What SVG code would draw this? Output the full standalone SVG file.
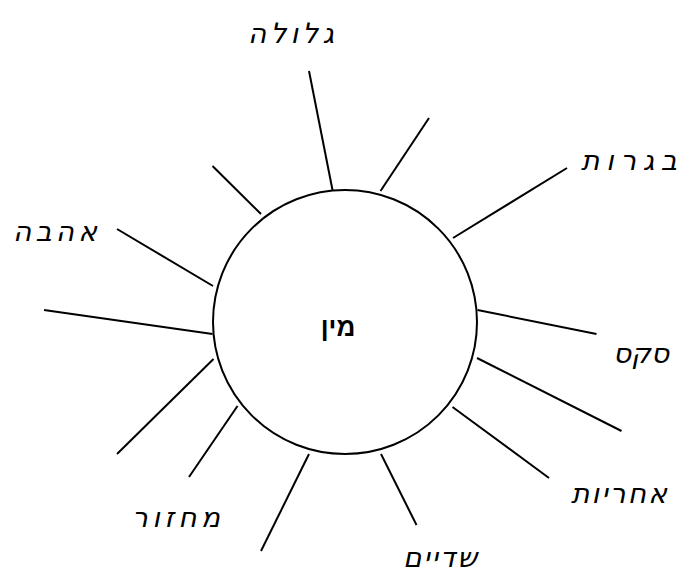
<svg xmlns="http://www.w3.org/2000/svg" width="680" height="577" viewBox="0 0 680 577">
<style>
.bg{fill:#fff}
.spoke{stroke:#000;stroke-width:2;stroke-linecap:butt;fill:none}
.hub{fill:#fff;stroke:#000;stroke-width:2}
.hubtxt{font-family:"Liberation Sans","DejaVu Sans",sans-serif;font-weight:bold;font-size:26px;fill:#000;text-anchor:middle}
.lbl{font-family:"DejaVu Sans","Liberation Sans",sans-serif;font-style:italic;font-size:28px;fill:#000;text-anchor:middle}
</style>
<rect class="bg" x="0" y="0" width="680" height="577"/>
<g id="connectors">
<line class="spoke" x1="309" y1="71" x2="332.5" y2="190"/>
<line class="spoke" x1="429" y1="118" x2="380.5" y2="191"/>
<line class="spoke" x1="567" y1="168" x2="453" y2="238"/>
<line class="spoke" x1="212.5" y1="166" x2="261" y2="214"/>
<line class="spoke" x1="117" y1="229" x2="213" y2="286"/>
<line class="spoke" x1="44" y1="310" x2="212.5" y2="334"/>
<line class="spoke" x1="213.5" y1="359" x2="117" y2="454"/>
<line class="spoke" x1="237.5" y1="406" x2="189" y2="477"/>
<line class="spoke" x1="309" y1="454" x2="261" y2="551"/>
<line class="spoke" x1="381" y1="454" x2="416.5" y2="525"/>
<line class="spoke" x1="452.5" y1="407" x2="549" y2="478"/>
<line class="spoke" x1="477" y1="358" x2="621.5" y2="431"/>
<line class="spoke" x1="477.5" y1="310" x2="596.5" y2="334"/>
</g>
<g id="node-min">
<circle class="hub" cx="345" cy="322" r="132"/>
<text class="hubtxt" x="338" y="336">מין</text>
</g>
<g id="node-glula"><text class="lbl" x="291" y="43" textLength="86" lengthAdjust="spacing">גלולה</text></g>
<g id="node-bagrut"><text class="lbl" x="629" y="170" textLength="96" lengthAdjust="spacing">בגרות</text></g>
<g id="node-ahava"><text class="lbl" x="55" y="241" textLength="84" lengthAdjust="spacing">אהבה</text></g>
<g id="node-seks"><text class="lbl" x="641" y="363">סקס</text></g>
<g id="node-achrayut"><text class="lbl" x="619" y="503" textLength="96" lengthAdjust="spacing">אחריות</text></g>
<g id="node-shadayim"><text class="lbl" x="440" y="567" textLength="74" lengthAdjust="spacing">שדיים</text></g>
<g id="node-machzor"><text class="lbl" x="176" y="527" textLength="88" lengthAdjust="spacing">מחזור</text></g>
</svg>
